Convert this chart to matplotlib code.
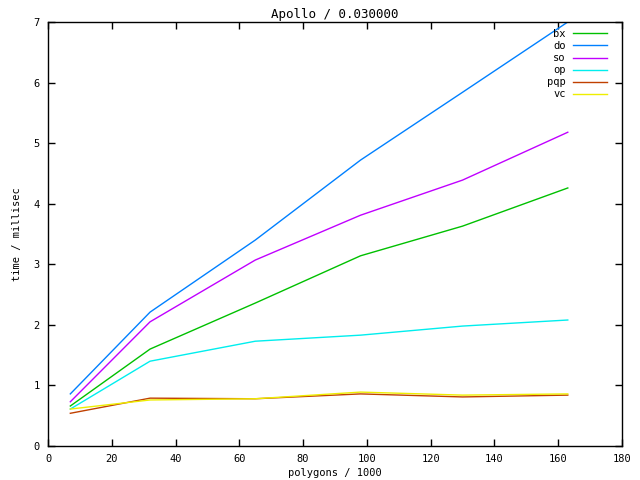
import matplotlib
matplotlib.use("Agg")
import matplotlib.pyplot as plt

x = [7, 32, 65, 98, 130, 163]
bx = [0.66, 1.60, 2.36, 3.14, 3.63, 4.26]
do = [0.86, 2.21, 3.40, 4.72, 5.84, 7.00]
so = [0.73, 2.05, 3.07, 3.81, 4.39, 5.18]
op = [0.61, 1.40, 1.73, 1.83, 1.98, 2.08]
pqp = [0.54, 0.79, 0.78, 0.86, 0.81, 0.84]
vc = [0.61, 0.76, 0.78, 0.89, 0.84, 0.86]

names = ["bx", "do", "so", "op", "pqp", "vc"]
series = [bx, do, so, op, pqp, vc]
colors = ["#00c000", "#0080ff", "#c000ff", "#00eeee", "#c04000", "#eeee00"]

plt.rcParams['font.family'] = ['DejaVu Sans Mono']
plt.rcParams['font.size'] = 7.5

fig = plt.figure(figsize=(6.4, 4.8), dpi=100)
ax = fig.add_axes([48/640, 34/480, 574/640, 424/480])
for n, s, c in zip(names, series, colors):
    ax.plot(x, s, color=c, lw=1, label=n)

ax.set_xlim(0, 180)
ax.set_ylim(0, 7)
ax.set_xticks(range(0, 181, 20))
ax.set_yticks(range(0, 8))
ax.tick_params(direction='in', top=True, right=True, length=5, width=1, pad=6)
for sp in ax.spines.values():
    sp.set_linewidth(1)
ax.set_xlabel("polygons / 1000", labelpad=3)
ax.set_ylabel("time / millisec", labelpad=8)
ax.set_title("Apollo / 0.030000", pad=3)
leg = ax.legend(loc='upper right', markerfirst=False, frameon=False,
                handlelength=3.3, labelspacing=0.2, borderaxespad=0,
                borderpad=0, handletextpad=0.65,
                bbox_to_anchor=(607/640, (480-29)/480),
                bbox_transform=fig.transFigure)
fig.savefig("out.png", dpi=100)
